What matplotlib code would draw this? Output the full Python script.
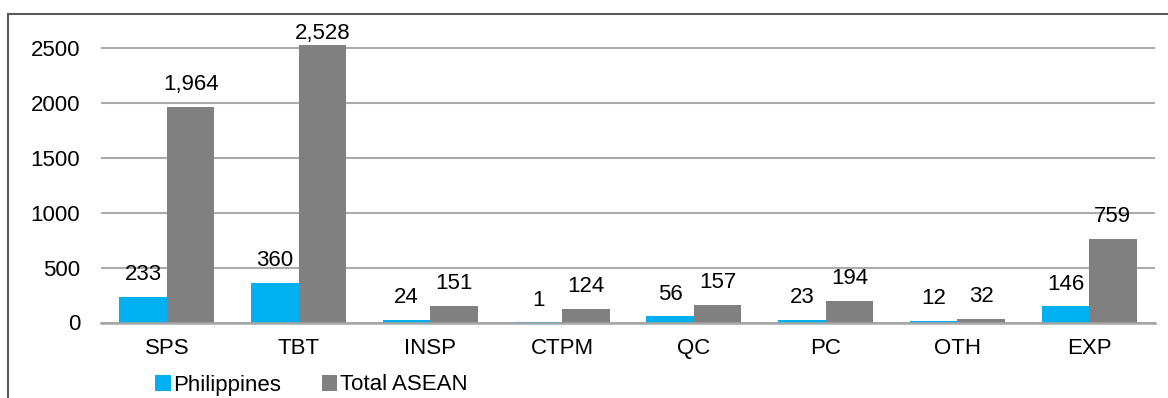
import matplotlib
matplotlib.use("Agg")
import matplotlib.pyplot as plt
from matplotlib.lines import Line2D
import numpy as np

categories = ["SPS", "TBT", "INSP", "CTPM", "QC", "PC", "OTH", "EXP"]
philippines = [233, 360, 24, 1, 56, 23, 12, 146]
total_asean = [1964, 2528, 151, 124, 157, 194, 32, 759]
series_names = ["Philippines", "Total ASEAN"]
y_ticks = [0, 500, 1000, 1500, 2000, 2500]

plt.rcParams["font.family"] = ["Liberation Sans", "DejaVu Sans"]
FS = 16
BLUE = "#00B0F0"
GREY = "#808080"

W, H = 1168, 398
fig = plt.figure(figsize=(W / 100, H / 100), dpi=100)
fig.patch.set_facecolor("white")

# axes placement in pixel terms
left, right = 101, 1155
y0_px, y2500_px = 322.5, 48
px_per_unit = (y0_px - y2500_px) / 2500
top_px = 20
top_val = (y0_px - top_px) / px_per_unit
ax = fig.add_axes([left / W, 1 - y0_px / H, (right - left) / W, (y0_px - top_px) / H])
ax.set_ylim(0, top_val)

x = np.arange(len(categories))
bw = 0.36
b1 = ax.bar(x - bw / 2, philippines, bw, color=BLUE, label=series_names[0], zorder=3)
b2 = ax.bar(x + bw / 2, total_asean, bw, color=GREY, label=series_names[1], zorder=3)
ax.set_xlim(-0.5, len(categories) - 0.5)

# value labels sit above each bar, but are kept inside the plot area
label_room = 33 / px_per_unit
for bars, vals in ((b1, philippines), (b2, total_asean)):
    for rect, v in zip(bars, vals):
        cx = rect.get_x() + rect.get_width() / 2
        if v + label_room > top_val:
            ax.annotate(f"{v:,}", (cx, top_val), xytext=(0, -2.5),
                        textcoords="offset points", ha="center", va="top",
                        fontsize=FS, color="black", zorder=5)
        else:
            ax.annotate(f"{v:,}", (cx, v), xytext=(0, 8.5),
                        textcoords="offset points", ha="center", va="bottom",
                        fontsize=FS, color="black", zorder=5)

ax.set_yticks(y_ticks)
ax.set_yticklabels([str(t) for t in y_ticks], fontsize=FS)
ax.set_xticks(x)
ax.set_xticklabels(categories, fontsize=FS)
ax.tick_params(axis="both", length=0)
ax.tick_params(axis="y", pad=15)
ax.tick_params(axis="x", pad=11)
ax.grid(axis="y", color="#ABABAB", linewidth=1.5, zorder=0)
for s in ("top", "right", "left"):
    ax.spines[s].set_visible(False)
ax.spines["bottom"].set_color("#A6A6A6")
ax.spines["bottom"].set_linewidth(1.8)
ax.spines["bottom"].set_zorder(4)
ax.set_facecolor("none")

leg = fig.legend(handles=[b1, b2], labels=series_names, loc="center left",
                 bbox_to_anchor=(155 / W, 1 - 385 / H), ncol=2, frameon=False,
                 fontsize=FS, handlelength=0.7, handleheight=0.7,
                 handletextpad=0.1, columnspacing=1.85, borderaxespad=0, borderpad=0)

# outer frame (top and left edges)
fig.add_artist(Line2D([8 / W, 1], [1 - 14 / H, 1 - 14 / H], color="#5A5A5A",
                      linewidth=1.5, transform=fig.transFigure))
fig.add_artist(Line2D([8 / W, 8 / W], [0, 1 - 14 / H], color="#5A5A5A",
                      linewidth=1.5, transform=fig.transFigure))

fig.savefig("out.png", dpi=100)
